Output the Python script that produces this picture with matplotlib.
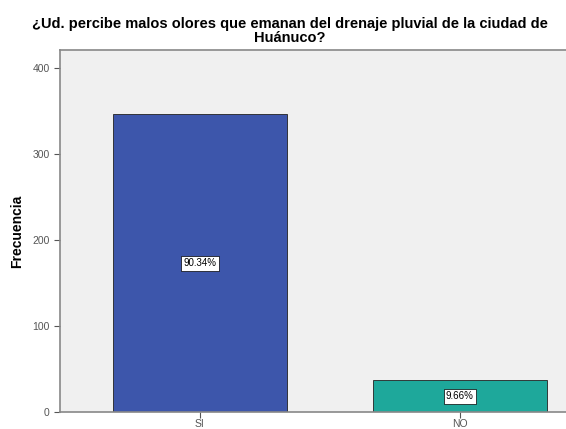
import matplotlib.pyplot as plt

categorias = ['SI', 'NO']
frecuencias = [346, 37]
porcentajes = ['90.34%', '9.66%']
colores = ['#3d56ab', '#1ea89b']

fig = plt.figure(figsize=(5.66, 4.29), dpi=100)
ax = fig.add_axes([60 / 566, 17 / 429, 506 / 566, 362 / 429])
ax.set_facecolor('#f0f0f0')

x = list(range(len(categorias)))
bars = ax.bar(x, frecuencias, width=0.67, color=colores, edgecolor='#222222', linewidth=0.6, zorder=2)

for b, p in zip(bars, porcentajes):
    ax.text(b.get_x() + b.get_width() / 2, b.get_height() / 2, p, ha='center', va='center',
            fontsize=7, color='black', zorder=3, family='Liberation Sans',
            bbox=dict(boxstyle='square,pad=0.25', facecolor='white', edgecolor='black', linewidth=0.5))

ax.set_xlim(-0.538, 1.408)
ax.set_ylim(0, 421)
ax.set_yticks([0, 100, 200, 300, 400])
ax.set_xticks(x)
ax.set_xticklabels(categorias)
ax.tick_params(axis='both', labelsize=7.5, colors='#555555', length=4, width=0.8)
ax.tick_params(axis='x', pad=1)
for t in ax.get_xticklabels() + ax.get_yticklabels():
    t.set_family('Liberation Sans')

ax.spines['right'].set_visible(False)
for s in ['left', 'bottom', 'top']:
    ax.spines[s].set_color('#888888')
    ax.spines[s].set_linewidth(1.2)

ax.set_ylabel('Frecuencia', fontsize=10, fontweight='bold', labelpad=6, family='Liberation Sans')

fig.text(0.512, 0.96, '¿Ud. percibe malos olores que emanan del drenaje pluvial de la ciudad de\nHuánuco?',
         ha='center', va='top', fontsize=10.5, fontweight='bold', linespacing=0.95, family='Liberation Sans')

fig.savefig('out.png', dpi=100)
